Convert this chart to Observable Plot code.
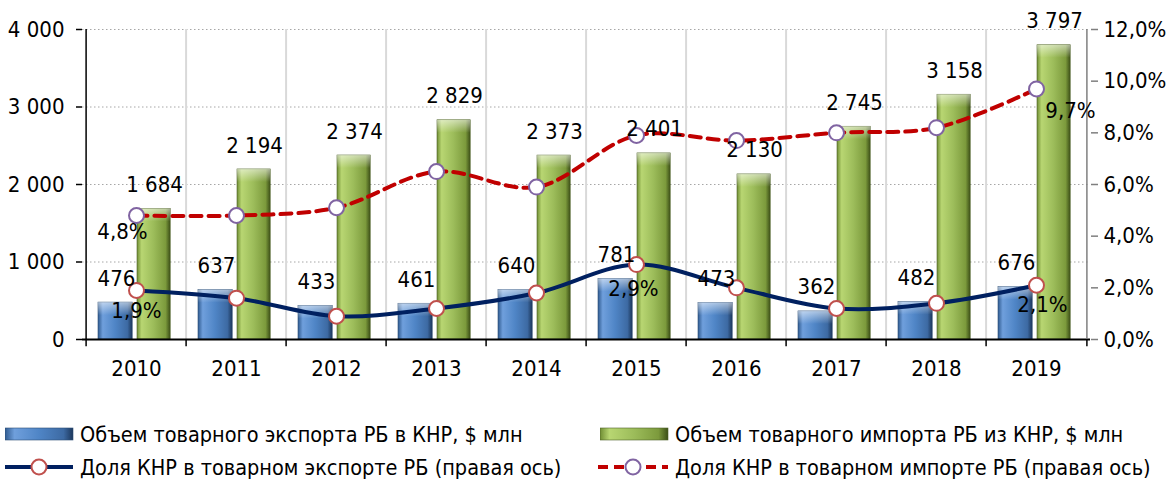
<!DOCTYPE html>
<html><head><meta charset="utf-8">
<script src="https://cdn.jsdelivr.net/npm/d3@7"></script>
<script src="https://cdn.jsdelivr.net/npm/@observablehq/plot@0.6"></script>
<style>
html,body{margin:0;padding:0;background:#fff;}
body{width:1166px;height:485px;overflow:hidden;position:relative;font-family:"Liberation Sans Narrow","Arial Narrow","DejaVu Sans Condensed",sans-serif;}
#title{position:absolute;left:107px;top:-28px;font:bold 26px/26px "Liberation Sans",Arial,sans-serif;white-space:nowrap;color:#000;}
#chart{position:absolute;left:0;top:0;}
.lg{position:absolute;display:flex;align-items:center;font-size:21.5px;color:#000;white-space:nowrap;}
.lg svg{margin-right:6px;}
</style></head><body>
<div id="title">Внешняя торговля товарами Республики Беларусь с КНР</div>
<div id="chart"></div>
<div class="lg" style="left:5px;top:421px"><svg width="69" height="26"><rect x="0" y="7" width="68" height="12" fill="url(#gBlue)" stroke="#2c4d75" stroke-width="0.6"/></svg><span>Объем товарного экспорта РБ в КНР, $ млн</span></div>
<div class="lg" style="left:600px;top:421px"><svg width="69" height="26"><rect x="0" y="7" width="68" height="12" fill="url(#gGreen)" stroke="#4f6228" stroke-width="0.6"/></svg><span>Объем товарного импорта РБ из КНР, $ млн</span></div>
<div class="lg" style="left:5px;top:454px"><svg width="69" height="26"><line x1="0" y1="13" x2="68" y2="13" stroke="#002060" stroke-width="4"/><circle cx="34" cy="13" r="7.5" fill="#fff" stroke="#c0504d" stroke-width="2"/></svg><span>Доля КНР в товарном экспорте РБ (правая ось)</span></div>
<div class="lg" style="left:598px;top:454px"><svg width="71" height="26"><line x1="0" y1="13" x2="70" y2="13" stroke="#c00000" stroke-width="4" stroke-dasharray="10,6"/><circle cx="35" cy="13" r="7.5" fill="#fff" stroke="#8064a2" stroke-width="2"/></svg><span>Доля КНР в товарном импорте РБ (правая ось)</span></div>
<script>
const years = [2010, 2011, 2012, 2013, 2014, 2015, 2016, 2017, 2018, 2019];
const exportVolume = [476, 637, 433, 461, 640, 781, 473, 362, 482, 676];
const importVolume = [1684, 2194, 2374, 2829, 2373, 2401, 2130, 2745, 3158, 3797];
const exportShare = [1.9, 1.6, 0.9, 1.2, 1.8, 2.9, 2.0, 1.2, 1.4, 2.1];
const importShare = [4.8, 4.8, 5.1, 6.5, 5.9, 7.9, 7.7, 8.0, 8.2, 9.7];
const leftTicks = [0, 1000, 2000, 3000, 4000];
const rightTicks = [0, 2, 4, 6, 8, 10, 12];

const data = years.map((y, i) => ({year: y, exp: exportVolume[i], imp: importVolume[i], es: exportShare[i], is: importShare[i]}));
const k = 4000 / 12; // right axis (%) -> left axis units
const fmtK = d => String(d).replace(/\B(?=(\d{3})+(?!\d))/g, " ");
const fmtP = d => d.toFixed(1).replace(".", ",") + "%";
const FONT = '"Liberation Sans Narrow","Arial Narrow","DejaVu Sans Condensed",sans-serif';
const half = 50.4;
const byYear = y => data.filter(d => d.year === y);

const chart = Plot.plot({
  width: 1166, height: 395,
  marginTop: 29, marginBottom: 56, marginLeft: 82, marginRight: 76,
  style: {fontFamily: FONT, fontSize: "22px", color: "#000", background: "transparent", overflow: "visible"},
  x: {type: "band", domain: years, padding: 0, axis: null},
  y: {domain: [0, 4000], axis: null},
  marks: [
    Plot.gridY(leftTicks.filter(d => d > 0), {stroke: "#a6a6a6", strokeOpacity: 1, strokeDasharray: "1.5,2.5"}),
    Plot.ruleX(years.slice(1), {x: d => d, dx: -half, stroke: "#d9d9d9", strokeWidth: 2}),
    // bars
    Plot.barY(data, {x: "year", y: "exp", insetLeft: 12, insetRight: 53.8, fill: "url(#gBlue)", stroke: "#2c4d75", strokeWidth: 0.6}),
    Plot.barY(data, {x: "year", y1: "exp", y2: "exp", insetLeft: 12, insetRight: 53.8, insetBottom: -13, fill: "url(#gTop)"}),
    Plot.barY(data, {x: "year", y: "imp", insetLeft: 51, insetRight: 15.8, fill: "url(#gGreen)", stroke: "#4f6228", strokeWidth: 0.6}),
    Plot.barY(data, {x: "year", y1: "imp", y2: "imp", insetLeft: 51, insetRight: 15.8, insetBottom: -13, fill: "url(#gTop)"}),
    // axes lines
    Plot.ruleY([0], {stroke: "#000", strokeWidth: 2}),
    Plot.ruleX([years[0]], {x: d => d, dx: -half, stroke: "#000", strokeWidth: 1.5}),
    Plot.ruleX([years[years.length - 1]], {x: d => d, dx: half, stroke: "#7f7f7f", strokeWidth: 1.5}),
    Plot.ruleX(years, {x: d => d, dx: -half, y1: 0, y2: -95, stroke: "#000", strokeWidth: 1.5}),
    Plot.ruleX([years[years.length - 1]], {x: d => d, dx: half, y1: 0, y2: -95, stroke: "#000", strokeWidth: 1.5}),
    Plot.axisY({ticks: leftTicks, tickFormat: fmtK, tickSize: 6, tickPadding: 12, fontSize: 22, stroke: "#000", strokeWidth: 1.5, label: null}),
    Plot.axisY({anchor: "right", ticks: rightTicks.map(p => p * k), tickFormat: d => fmtP(d / k), tickSize: 7, tickPadding: 6, fontSize: 22, stroke: "#7f7f7f", strokeWidth: 1.5, label: null}),
    Plot.axisX({ticks: years, tickFormat: d => String(d), tickSize: 0, tickPadding: 21, fontSize: 22, label: null}),
    // lines
    Plot.line(data, {x: "year", y: d => d.is * k, curve: "catmull-rom", stroke: "#c00000", strokeWidth: 4, strokeDasharray: "11,7"}),
    Plot.line(data, {x: "year", y: d => d.es * k, curve: "catmull-rom", stroke: "#002060", strokeWidth: 4}),
    Plot.dot(data, {x: "year", y: d => d.is * k, r: 7.5, fill: "#fff", stroke: "#8064a2", strokeWidth: 2}),
    Plot.dot(data, {x: "year", y: d => d.es * k, r: 7.5, fill: "#fff", stroke: "#c0504d", strokeWidth: 2}),
    // value labels
    Plot.text(data, {x: "year", y: "exp", text: d => fmtK(d.exp), dx: -20, dy: -24, fontSize: 22, fill: "#000"}),
    Plot.text(data, {x: "year", y: "imp", text: d => fmtK(d.imp), dx: 18, dy: -24, fontSize: 22, fill: "#000"}),
    Plot.text(byYear(2010), {x: "year", y: d => d.is * k, text: d => fmtP(d.is), dx: -14, dy: 16, fontSize: 22, fill: "#000"}),
    Plot.text(byYear(2010), {x: "year", y: d => d.es * k, text: d => fmtP(d.es), dx: 0, dy: 21, fontSize: 22, fill: "#000"}),
    Plot.text(byYear(2015), {x: "year", y: d => d.es * k, text: d => fmtP(d.es), dx: -3, dy: 24, fontSize: 22, fill: "#000"}),
    Plot.text(byYear(2019), {x: "year", y: d => d.is * k, text: d => fmtP(d.is), dx: 34, dy: 22, fontSize: 22, fill: "#000"}),
    Plot.text(byYear(2019), {x: "year", y: d => d.es * k, text: d => fmtP(d.es), dx: 6, dy: 20, fontSize: 22, fill: "#000"})
  ]
});

const defs = d3.select(chart).insert("defs", ":first-child");
function hgrad(id, stops) {
  const g = defs.append("linearGradient").attr("id", id).attr("x1", 0).attr("x2", 1).attr("y1", 0).attr("y2", 0);
  stops.forEach(([o, c]) => g.append("stop").attr("offset", o).attr("stop-color", c));
}
hgrad("gBlue", [[0, "#2f5a8f"], [0.14, "#6f9fdc"], [0.5, "#4f85c6"], [0.86, "#3d6aa3"], [1, "#1c375c"]]);
hgrad("gGreen", [[0, "#6f8d33"], [0.14, "#b8d672"], [0.5, "#9cbc5a"], [0.86, "#7c9a3c"], [1, "#3c4f17"]]);
const gt = defs.append("linearGradient").attr("id", "gTop").attr("x1", 0).attr("x2", 0).attr("y1", 0).attr("y2", 1);
gt.append("stop").attr("offset", 0).attr("stop-color", "#ffffff").attr("stop-opacity", 0.55);
gt.append("stop").attr("offset", 1).attr("stop-color", "#ffffff").attr("stop-opacity", 0);

document.getElementById("chart").appendChild(chart);
</script>
</body></html>
